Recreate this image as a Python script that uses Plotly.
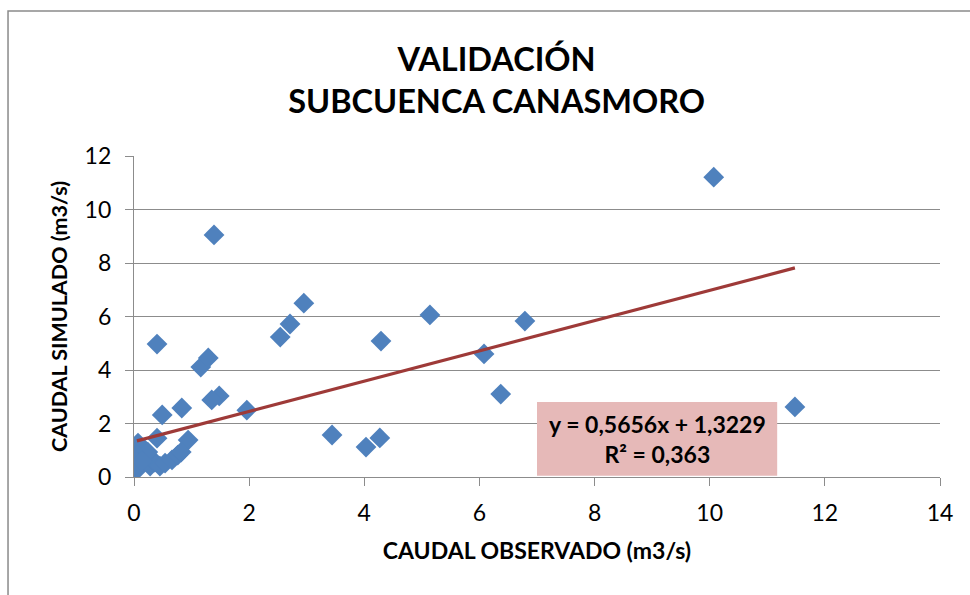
import plotly.graph_objects as go

# Observed vs simulated discharge (m3/s), Canasmoro sub-basin
caudal_observado = [
    10.07, 11.48, 1.39, 2.95, 2.71, 2.54, 5.14, 6.79, 6.08, 6.37,
    4.29, 3.44, 4.03, 4.27, 0.40, 1.96, 1.48, 1.35, 1.16, 1.29,
    0.83, 0.49, 0.94, 0.40, 0.07, 0.10, 0.05, 0.09, 0.05, 0.19,
    0.28, 0.36, 0.45, 0.54, 0.66, 0.76, 0.82, 0.24, 0.14,
]
caudal_simulado = [
    11.21, 2.62, 9.05, 6.50, 5.72, 5.23, 6.06, 5.83, 4.60, 3.10,
    5.08, 1.57, 1.12, 1.46, 4.97, 2.50, 3.03, 2.88, 4.11, 4.45,
    2.58, 2.32, 1.38, 1.45, 1.27, 1.12, 0.82, 0.45, 0.26, 0.64,
    0.41, 0.56, 0.41, 0.52, 0.64, 0.82, 0.93, 0.93, 0.60,
]

# Linear trend fitted to the series
SLOPE = 0.5656
INTERCEPT = 1.3229
R2 = 0.363

x_ticks = [0, 2, 4, 6, 8, 10, 12, 14]
y_ticks = [0, 2, 4, 6, 8, 10, 12]

FONT = "Lato"
GRID = "#8c8c8c"

x_line = [min(caudal_observado), max(caudal_observado)]
y_line = [SLOPE * v + INTERCEPT for v in x_line]


def fmt(v, nd):
    return f"{v:.{nd}f}".replace(".", ",")


fig = go.Figure()
fig.add_trace(go.Scatter(
    x=caudal_observado, y=caudal_simulado, mode="markers",
    marker=dict(symbol="diamond", size=16, color="#4F81BD", line=dict(width=0)),
    showlegend=False, hoverinfo="x+y",
))
fig.add_trace(go.Scatter(
    x=x_line, y=y_line, mode="lines",
    line=dict(color="#9E3A38", width=3.2),
    showlegend=False, hoverinfo="skip",
))

fig.update_layout(
    width=970, height=595,
    margin=dict(l=134, r=30, t=156, b=118),
    paper_bgcolor="white", plot_bgcolor="white",
    font=dict(family=FONT, color="black"),
    title=dict(
        text="<b>VALIDACIÓN<br>SUBCUENCA CANASMORO</b>",
        x=0.512, xanchor="center", y=0.881, yanchor="middle",
        font=dict(size=32.5, family=FONT, color="black"),
    ),
    xaxis=dict(
        range=[0, 14], tickvals=x_ticks, ticktext=[str(t) for t in x_ticks],
        showgrid=False, zeroline=False,
        showline=True, linecolor=GRID, linewidth=1.3,
        ticks="outside", ticklen=8, tickcolor=GRID, tickwidth=1.3,
        ticklabelstandoff=7,
        tickfont=dict(size=23, family=FONT, color="black"),
        title=dict(text="<b>CAUDAL OBSERVADO (m3/s)</b>",
                   font=dict(size=23, family=FONT, color="black"), standoff=18),
    ),
    yaxis=dict(
        range=[0, 12], tickvals=y_ticks, ticktext=[str(t) for t in y_ticks],
        showgrid=True, gridcolor=GRID, gridwidth=1.3, zeroline=False,
        showline=True, linecolor=GRID, linewidth=1.3,
        ticks="outside", ticklen=8, tickcolor=GRID, tickwidth=1.3,
        ticklabelstandoff=9,
        tickfont=dict(size=23, family=FONT, color="black"),
        title=dict(text="<b>CAUDAL SIMULADO (m3/s)</b>",
                   font=dict(size=21.5, family=FONT, color="black"), standoff=11),
    ),
    shapes=[
        # chart frame (runs off the right and bottom edges)
        dict(type="rect", xref="paper", yref="paper",
             x0=-0.1563, x1=1.05, y0=-0.40, y1=1.4517,
             line=dict(color="#8a8a8a", width=1.5), fillcolor="rgba(0,0,0,0)",
             layer="above"),
        # equation label background
        dict(type="rect", xref="paper", yref="paper",
             x0=0.5, x1=0.798, y0=0.004, y1=0.234,
             line=dict(width=0), fillcolor="#E6B9B8", layer="above"),
    ],
    annotations=[
        dict(xref="paper", yref="paper", x=0.649, y=0.119,
             xanchor="center", yanchor="middle", showarrow=False, align="center",
             text=f"<b>y = {fmt(SLOPE, 4)}x + {fmt(INTERCEPT, 4)}<br>R² = {fmt(R2, 3)}</b>",
             font=dict(size=23, family=FONT, color="black")),
    ],
)

fig.write_html("out.html")
